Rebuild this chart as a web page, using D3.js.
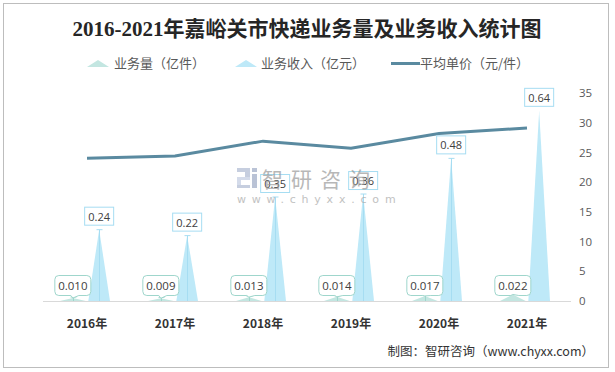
<!DOCTYPE html>
<html lang="zh">
<head>
<meta charset="UTF-8">
<title>2016-2021年嘉峪关市快递业务量及业务收入统计图</title>
<script src="https://d3js.org/d3.v7.min.js"></script>
<style>
  body { margin: 0; background: #fff; font-family: "Noto Sans CJK SC", "Noto Sans", sans-serif; }
  svg { display: block; }
</style>
</head>
<body>
<svg id="chart" width="615" height="372"></svg>
<script>
// data
const years = ["2016年", "2017年", "2018年", "2019年", "2020年", "2021年"];
const volume = [0.010, 0.009, 0.013, 0.014, 0.017, 0.022];      // 业务量（亿件）
const volumeLabels = ["0.010", "0.009", "0.013", "0.014", "0.017", "0.022"];
const revenue = [0.24, 0.22, 0.35, 0.36, 0.48, 0.64];           // 业务收入（亿元）
const revenueLabels = ["0.24", "0.22", "0.35", "0.36", "0.48", "0.64"];
const unitPrice = [24.0, 24.4, 26.9, 25.7, 28.2, 29.1];         // 平均单价（元/件）
const rightTicks = [0, 5, 10, 15, 20, 25, 30, 35];
const seriesNames = ["业务量（亿件）", "业务收入（亿元）", "平均单价（元/件）"];

const volColor = "#c3e6e1";
const volStroke = "#9fd6cc";
const revColor = "#bee9f8";
const revStroke = "#a6ddf2";
const lineColor = "#5a8aa0";

const svg = d3.select("#chart");
const plot = { left: 43, right: 571, top: 93, bottom: 301 };

// outer frame
svg.append("rect")
  .attr("x", 3.5).attr("y", 3.5)
  .attr("width", 605).attr("height", 364)
  .attr("fill", "#fff").attr("stroke", "#bdbdbd");

// title
svg.append("text")
  .attr("x", 307).attr("y", 36)
  .attr("text-anchor", "middle")
  .attr("font-family", "'Liberation Serif', 'Noto Sans CJK SC', serif")
  .attr("font-weight", "bold")
  .attr("font-size", 21)
  .attr("fill", "#262626")
  .text("2016-2021年嘉峪关市快递业务量及业务收入统计图");

// scales
const x = d3.scaleBand().domain(years).range([plot.left, plot.right]);
const xSub = d3.scaleBand().domain(["vol", "rev"]).range([18, 68]).paddingInner(0.1);
const yLeft = d3.scaleLinear().domain([0, 0.7]).range([plot.bottom, plot.top]);
const yRight = d3.scaleLinear().domain([0, 35]).range([plot.bottom, plot.top]);

// baseline
svg.append("line")
  .attr("x1", plot.left).attr("x2", plot.right)
  .attr("y1", plot.bottom + 0.5).attr("y2", plot.bottom + 0.5)
  .attr("stroke", "#d9d9d9");

// triangles
const tri = (cx, w, yTop) => `M${cx - w / 2},${plot.bottom}L${cx},${yTop}L${cx + w / 2},${plot.bottom}Z`;

const volData = years.map((c, i) => ({ c, v: volume[i], label: volumeLabels[i], i }));
const revData = years.map((c, i) => ({ c, v: revenue[i], label: revenueLabels[i], i }));
const volX = d => x(d.c) + xSub("vol") + xSub.bandwidth() / 2;
const revX = d => x(d.c) + xSub("rev") + xSub.bandwidth() / 2;

svg.selectAll(".vol")
  .data(volData)
  .join("path")
  .attr("class", "vol")
  .attr("d", d => tri(volX(d), xSub.bandwidth() + 2, yLeft(d.v)))
  .attr("fill", volColor);

svg.selectAll(".rev")
  .data(revData)
  .join("path")
  .attr("class", "rev")
  .attr("d", d => tri(revX(d), xSub.bandwidth() - 2, yLeft(d.v)))
  .attr("fill", revColor);

// leader lines with caps (not on last year)
const lead = svg.append("g").attr("stroke", revStroke).attr("stroke-width", 1);
revData.filter(d => d.i < 5).forEach(d => {
  const cx = Math.round(revX(d)) + 0.5, yt = yLeft(d.v);
  lead.append("line").attr("x1", cx).attr("x2", cx).attr("y1", yt).attr("y2", plot.bottom);
  lead.append("line").attr("x1", cx - 3).attr("x2", cx + 3).attr("y1", yt).attr("y2", yt);
});
const leadV = svg.append("g").attr("stroke", volStroke).attr("stroke-width", 1);
volData.filter(d => d.i < 5).forEach(d => {
  const cx = Math.round(volX(d)) + 0.5, yt = yLeft(d.v) - 1;
  leadV.append("line").attr("x1", cx).attr("x2", cx).attr("y1", yt).attr("y2", plot.bottom);
  leadV.append("line").attr("x1", cx - 3).attr("x2", cx + 3).attr("y1", yt).attr("y2", yt);
});

// average price line
const line = d3.line()
  .x((d, i) => x(years[i]) + x.bandwidth() / 2)
  .y(d => yRight(d));
svg.append("path")
  .datum(unitPrice)
  .attr("d", line)
  .attr("fill", "none")
  .attr("stroke", lineColor)
  .attr("stroke-width", 3);

// revenue labels
const revLab = svg.selectAll(".revLab")
  .data(revData)
  .join("g")
  .attr("class", "revLab")
  .attr("transform", d => `translate(${revX(d)},${yLeft(d.v) - 4})`);
revLab.append("rect")
  .attr("x", -14.5).attr("y", -18.5)
  .attr("width", 29).attr("height", 18)
  .attr("fill", "#fff").attr("fill-opacity", 0.6).attr("stroke", revStroke);
revLab.append("text")
  .attr("y", -5)
  .attr("text-anchor", "middle")
  .attr("font-family", "'Open Sans', 'Noto Sans', sans-serif")
  .attr("font-size", 11)
  .attr("fill", "#404040")
  .text(d => d.label);

// volume callouts
const volLab = svg.selectAll(".volLab")
  .data(volData)
  .join("g")
  .attr("class", "volLab")
  .attr("transform", d => `translate(${volX(d)},0)`);
volLab.append("path")
  .attr("d", d => {
    const t = 275.5, b = 295.5, l = -18, r = 18, rr = 4;
    return `M${l + rr},${t}H${r - rr}Q${r},${t} ${r},${t + rr}V${b - rr}Q${r},${b} ${r - rr},${b}` +
      `H6L0,${yLeft(d.v)}L-2,${b}H${l + rr}Q${l},${b} ${l},${b - rr}V${t + rr}Q${l},${t} ${l + rr},${t}Z`;
  })
  .attr("fill", "#fff").attr("stroke", volStroke);
volLab.append("text")
  .attr("y", 290)
  .attr("text-anchor", "middle")
  .attr("font-family", "'Open Sans', 'Noto Sans', sans-serif")
  .attr("font-size", 11.5)
  .attr("fill", "#404040")
  .text(d => d.label);

// x axis
const xAxis = svg.append("g")
  .attr("transform", `translate(0,${plot.bottom})`)
  .call(d3.axisBottom(x).tickSize(0).tickPadding(18));
xAxis.select(".domain").remove();
xAxis.selectAll("text")
  .attr("font-family", "'Noto Sans CJK SC', sans-serif")
  .attr("font-weight", "bold")
  .attr("font-size", 12)
  .attr("fill", "#333");

// right axis
const yAxis = svg.append("g")
  .attr("transform", `translate(${plot.right + 8},0)`)
  .call(d3.axisRight(yRight).tickValues(rightTicks).tickSize(0).tickPadding(0));
yAxis.select(".domain").remove();
yAxis.selectAll("text")
  .attr("font-family", "'Open Sans', 'Noto Sans', sans-serif")
  .attr("font-size", 11.5)
  .attr("fill", "#595959");

// legend
const lg = svg.append("g").attr("font-size", 13).attr("fill", "#595959");
lg.append("path").attr("d", "M87,67L98,60L109,67Z").attr("fill", volColor);
lg.append("text").attr("x", 114).attr("y", 68).text(seriesNames[0]);
lg.append("path").attr("d", "M235,67L246,60L257,67Z").attr("fill", revColor);
lg.append("text").attr("x", 261).attr("y", 68).text(seriesNames[1]);
lg.append("line").attr("x1", 391).attr("x2", 420).attr("y1", 63.5).attr("y2", 63.5)
  .attr("stroke", lineColor).attr("stroke-width", 3);
lg.append("text").attr("x", 420).attr("y", 68).text(seriesNames[2]);

// watermark (drawn on top, translucent)
const wm = svg.append("g").attr("opacity", 0.7);
wm.append("rect").attr("x", 237).attr("y", 168).attr("width", 13).attr("height", 4).attr("fill", "#aebad2");
wm.append("rect").attr("x", 245).attr("y", 172).attr("width", 5).attr("height", 5).attr("fill", "#aebad2");
wm.append("rect").attr("x", 237).attr("y", 177).attr("width", 13).attr("height", 3).attr("fill", "#c3cde2");
wm.append("rect").attr("x", 237).attr("y", 180).attr("width", 4).attr("height", 5).attr("fill", "#c3cde2");
wm.append("rect").attr("x", 237).attr("y", 185).attr("width", 13).attr("height", 3).attr("fill", "#aebad2");
wm.append("rect").attr("x", 252).attr("y", 168).attr("width", 5).attr("height", 4).attr("fill", "#9eabc6");
wm.append("rect").attr("x", 252).attr("y", 174).attr("width", 5).attr("height", 14).attr("fill", "#9eabc6");
wm.append("text")
  .attr("x", 262).attr("y", 187)
  .attr("font-size", 21).attr("letter-spacing", 8)
  .attr("fill", "#9a9a9a")
  .text("智研咨询");
wm.append("text")
  .attr("x", 237).attr("y", 203)
  .attr("font-family", "'DejaVu Sans', sans-serif")
  .attr("font-size", 11).attr("letter-spacing", 5.8)
  .attr("fill", "#a8a8a8")
  .text("www.chyxx.com");

// source
svg.append("text")
  .attr("x", 594).attr("y", 356)
  .attr("text-anchor", "end")
  .attr("font-size", 12.5)
  .attr("fill", "#333")
  .text("制图：智研咨询（www.chyxx.com）");
</script>
</body>
</html>
